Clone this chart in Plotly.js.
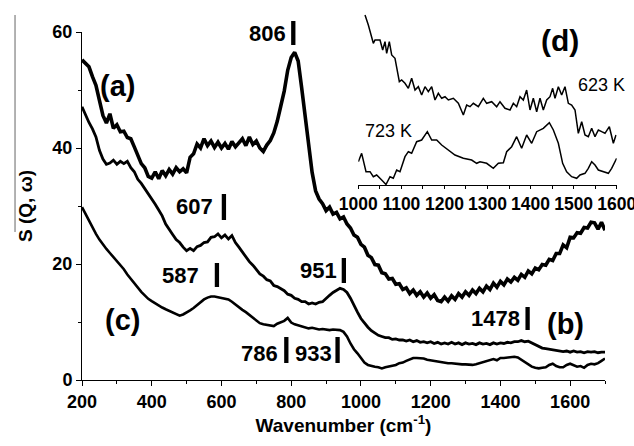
<!DOCTYPE html>
<html>
<head>
<meta charset="utf-8">
<script src="https://cdn.plot.ly/plotly-3.0.1.min.js"></script>
<style>html,body{margin:0;padding:0;background:#fff;}#chart{width:634px;height:446px;}</style>
</head>
<body>
<div id="chart"></div>
<script>
const wavenumber = [200,210,220,230,240,250,260,270,280,290,300,310,320,330,340,350,360,370,380,390,400,410,420,430,440,450,460,470,480,490,500,510,520,530,540,550,560,570,580,590,600,610,620,630,640,650,660,670,680,690,700,710,720,730,740,750,760,770,780,790,800,810,820,830,840,850,860,870,880,890,900,910,920,930,940,950,960,970,980,990,1000,1010,1020,1030,1040,1050,1060,1070,1080,1090,1100,1110,1120,1130,1140,1150,1160,1170,1180,1190,1200,1210,1220,1230,1240,1250,1260,1270,1280,1290,1300,1310,1320,1330,1340,1350,1360,1370,1380,1390,1400,1410,1420,1430,1440,1450,1460,1470,1480,1490,1500,1510,1520,1530,1540,1550,1560,1570,1580,1590,1600,1610,1620,1630,1640,1650,1660,1670,1680,1690,1700];

const seriesA = [55.2,54.6,54.0,52.3,50.8,48.2,45.6,44.3,45.9,43.4,44.0,42.8,42.9,41.8,41.6,40.2,38.9,37.3,36.6,35.1,34.8,35.9,34.7,36.1,35.2,36.3,35.5,36.6,35.9,36.4,35.7,38.4,39.0,40.7,40.0,41.6,40.4,41.2,40.1,41.0,40.0,40.8,39.8,41.1,40.2,40.9,41.6,40.4,41.9,40.6,41.2,40.0,39.4,40.5,41.3,42.6,44.6,47.2,49.8,53.4,55.6,56.5,55.0,50.4,45.2,40.6,35.8,32.6,31.2,30.4,29.2,29.8,28.6,28.9,27.8,28.1,26.9,26.2,25.0,24.6,23.4,22.9,21.5,21.1,19.9,19.8,18.5,18.3,17.4,17.5,16.5,16.6,15.6,15.9,14.9,15.5,14.6,15.2,14.3,15.0,14.1,14.7,13.7,13.5,14.3,13.6,14.5,13.9,14.9,14.3,15.2,14.6,15.5,14.9,15.8,15.2,16.2,15.6,16.7,16.0,17.0,16.4,17.4,16.9,17.7,17.2,18.2,17.7,18.8,18.3,19.3,19.0,19.9,19.8,20.8,20.6,21.8,21.8,23.3,22.8,24.6,24.5,25.4,25.3,26.3,26.2,27.2,27.1,26.0,27.2,25.8];

const seriesB = [47.1,45.6,44.4,43.3,41.9,39.6,38.1,37.2,37.4,37.9,37.2,37.7,37.3,37.7,36.6,35.9,34.6,33.9,33.0,32.3,31.2,30.3,29.3,28.3,26.9,25.9,25.1,24.2,23.7,22.9,22.3,22.7,22.3,23.0,23.2,23.7,23.8,24.6,24.7,25.2,24.5,25.0,24.3,24.9,23.7,22.9,22.0,21.3,20.4,19.8,19.1,18.3,17.9,17.3,17.1,16.3,16.1,15.7,15.4,14.8,14.6,14.1,13.9,13.5,13.5,13.1,13.3,13.1,13.4,13.5,14.1,14.6,15.1,15.4,15.8,15.6,15.1,14.1,12.8,11.7,10.6,9.8,9.1,8.5,8.1,7.7,7.5,7.3,7.3,7.0,7.1,6.9,6.9,6.7,6.9,6.6,6.8,6.5,6.6,6.4,6.6,6.3,6.5,6.2,6.4,6.2,6.5,6.2,6.4,6.1,6.4,6.2,6.3,6.1,6.4,6.2,6.3,6.1,6.4,6.2,6.4,6.3,6.5,6.4,6.6,6.6,6.8,6.6,6.7,6.4,6.0,5.7,5.5,5.4,5.3,5.2,5.1,5.0,4.9,5.0,4.8,5.0,4.8,4.9,4.7,4.9,4.8,4.9,4.7,4.8,4.8];

const seriesC = [29.8,28.6,27.4,26.2,25.2,24.2,23.3,22.6,21.9,21.2,20.5,19.8,19.1,18.2,17.4,16.6,15.9,15.2,14.6,14.0,13.6,13.2,12.8,12.5,12.2,11.9,11.6,11.4,11.1,11.3,11.6,12.0,12.4,12.9,13.5,13.9,14.2,14.4,14.4,14.3,14.2,14.1,13.9,13.5,13.0,12.6,12.1,11.7,11.2,10.7,10.2,9.8,9.6,9.5,9.5,9.3,9.7,10.0,10.2,10.7,9.9,9.6,9.4,9.2,9.0,8.9,9.0,8.8,8.7,8.8,8.7,8.6,8.7,8.7,8.6,8.3,7.5,6.3,5.3,4.6,3.9,3.0,2.6,2.4,2.3,2.2,2.0,2.2,2.3,2.5,2.6,2.9,3.0,3.3,3.6,3.8,3.8,3.8,3.7,3.5,3.4,3.2,3.1,3.0,3.0,2.9,2.9,2.8,2.8,2.7,2.7,2.6,2.6,2.7,2.9,3.1,3.2,3.4,3.6,3.4,3.8,3.8,3.9,4.0,4.0,3.9,3.5,3.0,2.6,2.3,2.1,2.0,2.1,2.2,2.6,2.8,2.4,2.2,2.2,2.6,2.8,2.5,2.3,2.4,2.1,2.6,2.8,2.7,2.9,3.3,3.7];

// inset (d): relative intensity, arbitrary units
const inset623x = [1015.6,1023.3,1034.9,1038.8,1050.4,1056.6,1062.0,1065.9,1072.0,1077.5,1085.2,1089.1,1095.3,1100.7,1108.4,1116.2,1123.9,1131.7,1139.4,1147.1,1154.9,1162.6,1170.4,1178.1,1185.8,1193.6,1201.3,1209.1,1220.7,1232.3,1243.9,1251.6,1259.4,1267.1,1278.7,1290.3,1298.1,1309.7,1321.3,1329.0,1340.6,1352.2,1360.0,1367.7,1375.5,1383.2,1390.9,1398.7,1406.4,1414.2,1421.9,1429.6,1437.4,1445.1,1451.3,1456.7,1464.5,1472.2,1479.9,1487.7,1495.4,1503.2,1510.9,1518.7,1526.4,1534.1,1541.9,1549.6,1557.4,1565.1,1572.8,1582.9,1592.2,1598.4];
const inset623y = [170,160,141.7,145,145,135,143.3,131.7,143.3,130,126.7,118.3,103.3,105,101.7,96.7,106.7,95,98.3,90,98.3,93.3,98.3,85,91.7,86.7,88.3,85,86.7,81.7,70,80,78.3,81.7,78.3,86.7,81.7,83.3,78.3,83.3,76.7,75,81.7,78.3,88.3,85,95,75,86.7,73.3,86.7,75,85,88.3,96.7,86.7,98.3,90,98.3,81.7,80,75,51.7,63.3,50,48.3,56.7,48.3,55,53.3,51.7,58.3,41.7,50];
const inset723x = [1000.1,1007.8,1017.9,1027.2,1034.9,1042.6,1054.3,1064.3,1073.6,1081.3,1089.1,1096.8,1108.4,1116.2,1123.9,1135.5,1147.1,1160.3,1170.4,1182.0,1193.6,1209.1,1224.5,1243.9,1263.2,1274.8,1282.6,1298.1,1313.5,1325.2,1336.8,1344.5,1356.1,1367.7,1379.3,1390.9,1402.6,1414.2,1429.6,1443.6,1452.9,1464.5,1474.5,1483.8,1495.4,1507.0,1514.8,1526.4,1534.1,1541.9,1549.6,1557.4,1569.0,1580.6,1588.3,1599.9];
const inset723y = [23.3,31.7,13.3,13.3,8.3,10,5,0.5,8.3,6.7,15,13.3,28.3,33.3,31.7,43.3,45,53.3,45,45,40,35,30,26.7,25,21.7,23.3,21.7,16.7,21.7,22.3,33.3,38.3,48.3,36.7,50,41.7,53.3,56.7,62.3,55,41.7,21.7,13.3,8.3,6.7,10,11.7,16.7,23.3,20,15,13.3,11.7,16.7,26.7];

const xTickVals = [200,400,600,800,1000,1200,1400,1600];
const yTickVals = [0,20,40,60];
const insetTickVals = [1000,1100,1200,1300,1400,1500,1600];

const peakPositions = [806,607,587,951,786,933,1478];
const peakLabels = ['806','607','587','951','786','933','1478'];

const FONT = 'Liberation Sans, Arial, sans-serif';
const black = '#000000';

const traces = [
  {x: wavenumber, y: seriesA, mode: 'lines', line: {color: black, width: 3.6}, xaxis: 'x', yaxis: 'y', name: '(a)'},
  {x: wavenumber, y: seriesB, mode: 'lines', line: {color: black, width: 2.8}, xaxis: 'x', yaxis: 'y', name: '(b)'},
  {x: wavenumber, y: seriesC, mode: 'lines', line: {color: black, width: 2.6}, xaxis: 'x', yaxis: 'y', name: '(c)'},
  {x: inset623x, y: inset623y, mode: 'lines', line: {color: black, width: 1.5}, xaxis: 'x2', yaxis: 'y2', name: '623 K'},
  {x: inset723x, y: inset723y, mode: 'lines', line: {color: black, width: 1.5}, xaxis: 'x2', yaxis: 'y2', name: '723 K'}
];

// label geometry (paper coords)
const barY = {806:[0.8933,0.9573],607:[0.4267,0.496],587:[0.248,0.312],951:[0.2587,0.3253],786:[0.0453,0.1147],933:[0.0453,0.1147],1478:[0.1333,0.1947]};
const labelPos = {806:[0.3439,0.9253],607:[0.2082,0.464],587:[0.184,0.28],951:[0.4387,0.2933],786:[0.329,0.072],933:[0.4294,0.072],1478:[0.7677,0.1653]};

const shapes = peakPositions.map(p => ({
  type: 'line', xref: 'x', yref: 'paper', x0: p, x1: p, y0: barY[p][0], y1: barY[p][1],
  line: {color: black, width: 4.3}
}));
shapes.push({type:'line', xref:'paper', yref:'paper', x0:-0.1245, x1:-0.1245, y0:0.3947, y1:0.9733, line:{color:'#666', width:1}});

const annotations = peakPositions.map((p, i) => ({
  text: peakLabels[i], xref: 'paper', yref: 'paper', x: labelPos[p][0], y: labelPos[p][1],
  xanchor: 'center', yanchor: 'middle', showarrow: false,
  font: {family: FONT, size: 22, weight: 'bold', color: black}
}));
const letterLabels = [
  ['(a)', 0.0651, 0.784, 29, 'bold'],
  ['(b)', 0.8996, 0.1493, 29, 'bold'],
  ['(c)', 0.0762, 0.16, 29, 'bold'],
  ['(d)', 0.8885, 0.904, 30, 'bold'],
  ['623 K', 0.9647, 0.7867, 18, 'normal'],
  ['723 K', 0.5706, 0.664, 18, 'normal']
];
letterLabels.forEach(l => annotations.push({
  text: l[0], xref: 'paper', yref: 'paper', x: l[1], y: l[2], xanchor: 'center', yanchor: 'middle',
  showarrow: false, font: {family: FONT, size: l[3], weight: l[4], color: black}
}));

const layout = {
  width: 634, height: 446,
  margin: {l: 82, r: 14, t: 5, b: 66, pad: 0},
  paper_bgcolor: '#fff', plot_bgcolor: 'rgba(0,0,0,0)',
  showlegend: false,
  font: {family: FONT, color: black},
  xaxis: {
    domain: [0, 0.97212], range: [200, 1700], anchor: 'y',
    showline: true, linecolor: black, linewidth: 1, showgrid: false, zeroline: false,
    ticks: 'outside', ticklen: 5, tickwidth: 1, tickcolor: black,
    tickvals: xTickVals, ticktext: xTickVals.map(String),
    minor: {dtick: 100, tick0: 200, ticks: 'outside', ticklen: 3, tickwidth: 1, tickcolor: black, showgrid: false},
    tickfont: {family: FONT, size: 18, weight: 'bold', color: black},
    title: {text: 'Wavenumber (cm<sup>-1</sup>)', font: {family: FONT, size: 19, weight: 'bold', color: black}, standoff: 6}
  },
  yaxis: {
    domain: [0, 0.928], range: [0, 60], anchor: 'x',
    showline: true, linecolor: black, linewidth: 1, showgrid: false, zeroline: false,
    ticks: 'outside', ticklen: 5, tickwidth: 1, tickcolor: black,
    tickvals: yTickVals, ticktext: yTickVals.map(String),
    minor: {dtick: 10, ticks: 'outside', ticklen: 3, tickwidth: 1, tickcolor: black, showgrid: false},
    tickfont: {family: FONT, size: 18, weight: 'bold', color: black},
    title: {text: 'S (Q, ω)', font: {family: FONT, size: 19, weight: 'bold', color: black}, standoff: 14}
  },
  xaxis2: {
    domain: [0.51357, 0.99387], range: [1000, 1600], anchor: 'y2',
    showline: true, linecolor: black, linewidth: 1, showgrid: false, zeroline: false,
    ticks: 'outside', ticklen: 3, tickwidth: 1, tickcolor: black,
    tickvals: insetTickVals, ticktext: insetTickVals.map(String),
    ticklabeloverflow: 'allow',
    minor: {dtick: 50, tick0: 1000, ticks: 'outside', ticklen: 3, tickwidth: 1, tickcolor: black, showgrid: false},
    tickfont: {family: FONT, size: 17.5, weight: 'bold', color: black}
  },
  yaxis2: {
    domain: [0.52, 1], range: [0, 180], anchor: 'x2', visible: false, fixedrange: true
  },
  shapes: shapes,
  annotations: annotations
};

Plotly.newPlot('chart', traces, layout, {staticPlot: true, displayModeBar: false});
</script>
</body>
</html>
